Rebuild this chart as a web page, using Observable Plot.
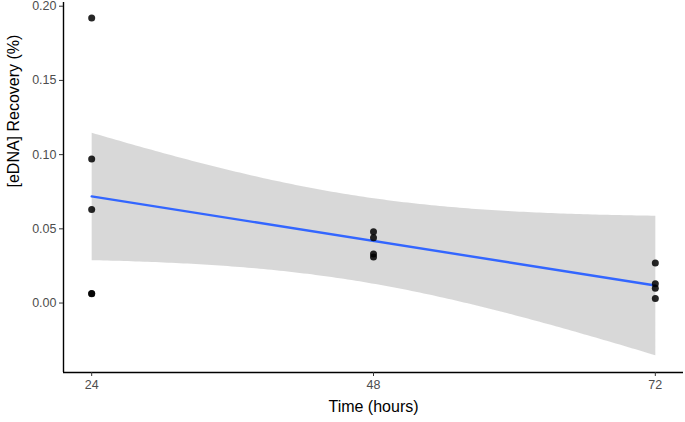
<!DOCTYPE html>
<html>
<head>
<meta charset="utf-8">
<script src="https://cdn.jsdelivr.net/npm/d3@7"></script>
<script src="https://cdn.jsdelivr.net/npm/@observablehq/plot@0.6"></script>
<style>
  html, body { margin: 0; padding: 0; background: #fff; }
  svg { display: block; }
</style>
</head>
<body>
<div id="chart"></div>
<script>
const hours = [24, 24, 24, 24, 24, 48, 48, 48, 48, 72, 72, 72, 72];
const recovery = [0.192, 0.097, 0.063, 0.0065, 0.0063, 0.048, 0.044, 0.033, 0.031, 0.027, 0.013, 0.010, 0.003];
const xTicks = [24, 48, 72];
const yTicks = [0, 0.05, 0.10, 0.15, 0.20];
const xDomain = [21.6, 74.4];
const yDomain = [-0.0468, 0.2025];
const xTitle = "Time (hours)";
const yTitle = "[eDNA] Recovery (%)";

const data = hours.map((h, i) => ({hours: h, recovery: recovery[i]}));

const chart = Plot.plot({
  width: 685,
  height: 422,
  marginLeft: 63,
  marginTop: 2,
  marginRight: 2,
  marginBottom: 50,
  style: {fontFamily: "'Liberation Sans', Arial, sans-serif", background: "#fff"},
  x: {domain: xDomain},
  y: {domain: yDomain},
  marks: [
    Plot.linearRegressionY(data, {
      x: "hours", y: "recovery", ci: 0.95,
      fill: "#999999", fillOpacity: 0.38,
      stroke: "#3366FF", strokeWidth: 2.4
    }),
    Plot.dot(data, {x: "hours", y: "recovery", r: 3.5, fill: "#000", fillOpacity: 0.85}),
    Plot.ruleX([xDomain[0]], {stroke: "#000", strokeWidth: 1.4}),
    Plot.ruleY([yDomain[0]], {stroke: "#000", strokeWidth: 1.4}),
    Plot.axisX(xTicks, {tickSize: 4, tickPadding: 4, fontSize: 12.5, color: "#4d4d4d", stroke: "#333", label: null}),
    Plot.axisY(yTicks, {tickSize: 4, tickPadding: 3, fontSize: 12.5, color: "#4d4d4d", stroke: "#333", tickFormat: d3.format(".2f"), label: null}),
    Plot.text([xTitle], {frameAnchor: "bottom", dy: 39, fontSize: 16, fill: "#000", text: d => d}),
    Plot.text([yTitle], {frameAnchor: "left", dx: -50, rotate: -90, fontSize: 16, fill: "#000", text: d => d})
  ]
});
document.getElementById("chart").appendChild(chart);
</script>
</body>
</html>
